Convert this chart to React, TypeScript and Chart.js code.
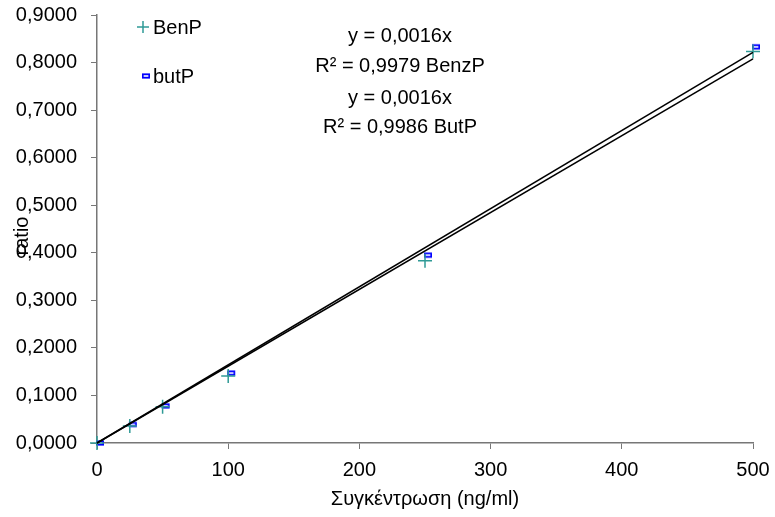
import React, { useEffect, useRef } from "react";
import { Chart, registerables } from "chart.js";

Chart.register(...registerables);

const concentrations = [0, 25, 50, 100, 250, 500];
const benPValues = [0, 0.036, 0.076, 0.141, 0.383, 0.823];
const butPValues = [0, 0.039, 0.078, 0.147, 0.395, 0.833];
const xTicks = [0, 100, 200, 300, 400, 500];
const seriesNames = ["BenP", "butP"];
const equationLines = [
  "y = 0,0016x",
  "R² = 0,9979 BenzP",
  "y = 0,0016x",
  "R² = 0,9986 ButP",
];
const xTitle = "Συγκέντρωση (ng/ml)";
const yTitle = "ratio";

const FONT = '"Liberation Sans", Arial, sans-serif';
const TEAL = "#2F9A96";
const BLUE = "#0000FF";

function slopeThroughOrigin(xs: number[], ys: number[]) {
  let sxy = 0;
  let sxx = 0;
  for (let i = 0; i < xs.length; i++) {
    sxy += xs[i] * ys[i];
    sxx += xs[i] * xs[i];
  }
  return sxy / sxx;
}

function makeDashMarker(offsetX: number) {
  const c = document.createElement("canvas");
  c.width = 20;
  c.height = 8;
  const ctx = c.getContext("2d")!;
  const w = 8;
  const h = 5;
  const x0 = 10 - w / 2 + offsetX;
  const y0 = 4 - h / 2;
  ctx.fillStyle = "#9090FF";
  ctx.fillRect(x0, y0, w, h);
  ctx.fillStyle = "#FFFFFF";
  ctx.fillRect(x0 + 2, y0 + 2, w - 4, 1);
  ctx.strokeStyle = BLUE;
  ctx.lineWidth = 1.5;
  ctx.strokeRect(x0 + 0.75, y0 + 0.75, w - 1.5, h - 1.5);
  return c;
}

export default function App() {
  const ref = useRef<HTMLCanvasElement | null>(null);

  useEffect(() => {
    if (!ref.current) return;
    const slopeBen = slopeThroughOrigin(concentrations, benPValues);
    const slopeBut = slopeThroughOrigin(concentrations, butPValues);
    const xMax = concentrations[concentrations.length - 1];
    const dash = makeDashMarker(3);
    const dashLegend = makeDashMarker(0);

    const overlay = {
      id: "overlay",
      afterDraw(chart: any) {
        const ctx = chart.ctx;
        const area = chart.chartArea;
        ctx.save();
        ctx.fillStyle = "#000";
        ctx.font = `20px ${FONT}`;
        ctx.textBaseline = "middle";
        ctx.textAlign = "center";
        const eqY = [36, 66, 98, 127];
        equationLines.forEach((t, i) => ctx.fillText(t, 400, eqY[i]));

        // legend
        ctx.textAlign = "left";
        ctx.strokeStyle = TEAL;
        ctx.lineWidth = 1.5;
        ctx.beginPath();
        ctx.moveTo(137, 27);
        ctx.lineTo(149, 27);
        ctx.moveTo(143, 21);
        ctx.lineTo(143, 33);
        ctx.stroke();
        ctx.fillStyle = "#000";
        ctx.fillText(seriesNames[0], 153, 28);
        ctx.drawImage(dashLegend, 146 - 10, 76 - 4);
        ctx.fillText(seriesNames[1], 153, 77);

        // axis titles
        ctx.textAlign = "center";
        ctx.fillText(xTitle, (area.left + area.right) / 2, 499);
        ctx.translate(22, (area.top + area.bottom) / 2 + 7);
        ctx.rotate(-Math.PI / 2);
        ctx.fillText(yTitle, 0, 0);
        ctx.restore();
      },
    };

    const chart = new Chart(ref.current, {
      type: "scatter",
      data: {
        datasets: [
          {
            label: "BenP trend",
            type: "line",
            data: [
              { x: 0, y: 0 },
              { x: xMax, y: slopeBen * xMax },
            ],
            borderColor: "#000",
            borderWidth: 1.5,
            pointRadius: 0,
            fill: false,
            clip: false,
          },
          {
            label: "butP trend",
            type: "line",
            data: [
              { x: 0, y: 0 },
              { x: xMax, y: slopeBut * xMax },
            ],
            borderColor: "#000",
            borderWidth: 1.5,
            pointRadius: 0,
            fill: false,
            clip: false,
          },
          {
            label: seriesNames[0],
            data: concentrations.map((x, i) => ({ x, y: benPValues[i] })),
            pointStyle: "cross",
            pointRadius: 7,
            borderColor: TEAL,
            backgroundColor: TEAL,
            borderWidth: 1.5,
            clip: false,
          },
          {
            label: seriesNames[1],
            data: concentrations.map((x, i) => ({ x, y: butPValues[i] })),
            pointStyle: dash as any,
            pointRadius: 5,
            clip: false,
          },
        ],
      },
      options: {
        responsive: false,
        animation: false,
        layout: { padding: { top: 15, right: 22, left: 0, bottom: 0 } },
        plugins: {
          legend: { display: false },
          tooltip: { enabled: false },
          title: { display: false },
        },
        scales: {
          x: {
            type: "linear",
            min: 0,
            max: 500,
            afterBuildTicks: (axis: any) => {
              axis.ticks = xTicks.map((v) => ({ value: v }));
            },
            afterFit: (axis: any) => {
              axis.height = 74;
              axis.paddingLeft = 0;
              axis.paddingRight = 0;
            },
            grid: {
              display: true,
              drawOnChartArea: false,
              drawTicks: true,
              tickLength: 6,
              color: "#777",
            },
            border: { display: true, color: "#777", width: 1.5 },
            ticks: {
              color: "#000",
              font: { family: FONT, size: 20 },
              padding: 9,
              maxRotation: 0,
            },
          },
          y: {
            type: "linear",
            min: 0,
            max: 0.9,
            afterFit: (axis: any) => {
              axis.width = 97;
              axis.paddingTop = 0;
              axis.paddingBottom = 0;
            },
            grid: {
              display: true,
              drawOnChartArea: false,
              drawTicks: true,
              tickLength: 6,
              color: "#777",
            },
            border: { display: true, color: "#777", width: 1.5 },
            ticks: {
              stepSize: 0.1,
              color: "#000",
              font: { family: FONT, size: 20 },
              padding: 14,
              callback: (v: any) => Number(v).toFixed(4).replace(".", ","),
            },
          },
        },
      },
      plugins: [overlay],
    });
    return () => chart.destroy();
  }, []);

  return (
    <div style={{ position: "fixed", left: 0, top: 0, width: 775, height: 517, background: "#fff" }}>
      <canvas ref={ref} width={775} height={517} style={{ width: 775, height: 517 }} />
    </div>
  );
}
